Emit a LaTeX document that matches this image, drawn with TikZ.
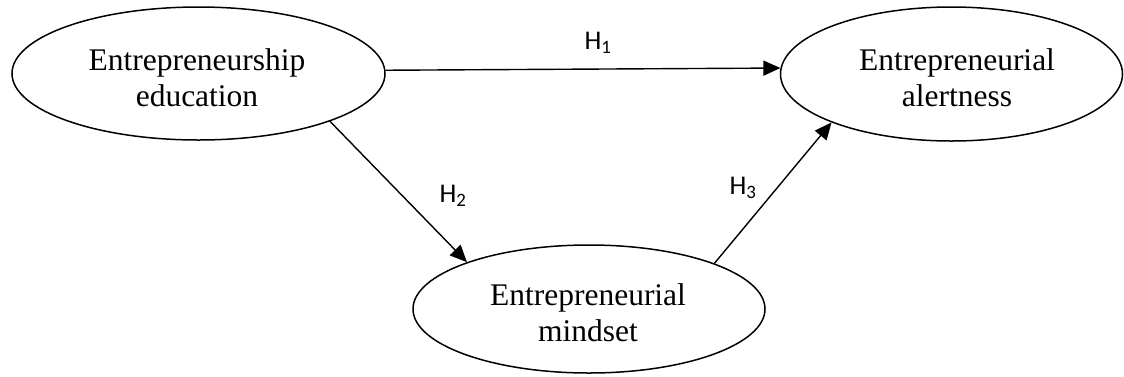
\documentclass[tikz,border=0pt]{standalone}
\usepackage{fontspec}
\setmainfont{Liberation Serif}
\newfontfamily\hfont{Carlito}
\usetikzlibrary{shapes.geometric,arrows.meta}
\begin{document}
\begin{tikzpicture}[x=1pt,y=-1pt,
  oval/.style={draw, ellipse, line width=1.5pt, inner sep=0pt},
  ovaltext/.style={font=\fontsize{31.5}{36}\selectfont, align=center, inner sep=0pt},
  hlabel/.style={font=\hfont\fontsize{27}{30}\selectfont, inner sep=0pt},
  link/.style={line width=1.4pt, -{Triangle[length=17pt,width=15pt]}}]
\useasboundingbox (0,0) rectangle (1124,376);
% ellipses
\node[oval, minimum width=373pt, minimum height=133pt] (edu) at (198.5,73.5) {};
\node[oval, minimum width=342pt, minimum height=134pt] (alert) at (951.5,74) {};
\node[oval, minimum width=352pt, minimum height=128pt] (mind) at (589,309) {};
% texts
\node[ovaltext] (edutxt) at (197,78) {Entrepreneurship\\education};
\node[ovaltext] (alerttxt) at (957,78) {Entrepreneurial\\alertness};
\node[ovaltext] (mindtxt) at (588,313) {Entrepreneurial\\mindset};
% connectors
\draw[link] (edu.1.7) -- (alert.178.7);
\draw[link] (edu.340) -- (mind.159.9);
\draw[link] (mind.20.4) -- (alert.202.5);
% labels
\node[hlabel] (h1) at (598,43) {H\textsubscript{1}};
\node[hlabel] (h2) at (453,196) {H\textsubscript{2}};
\node[hlabel] (h3) at (743,188) {H\textsubscript{3}};
\end{tikzpicture}
\end{document}
